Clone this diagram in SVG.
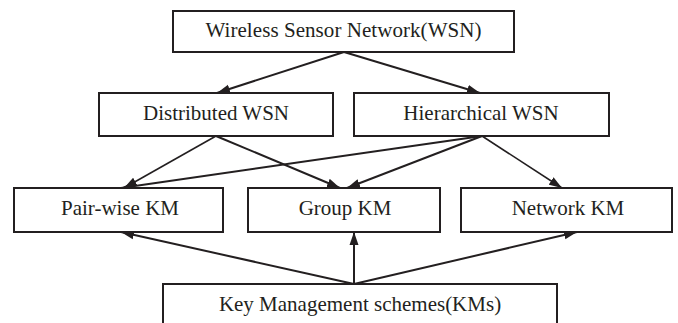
<svg xmlns="http://www.w3.org/2000/svg" width="678" height="323" viewBox="0 0 678 323">
<style>
  .box { fill: #ffffff; stroke: #231f20; stroke-width: 2; }
  .lbl { font-family: "Liberation Serif", "Times New Roman", serif; font-size: 21px; fill: #231f20; text-anchor: middle; }
  .edge { stroke: #231f20; stroke-width: 2; fill: none; marker-end: url(#ah); }
  .thin { stroke-width: 1.6; }
</style>
<defs>
  <marker id="ah" markerUnits="userSpaceOnUse" markerWidth="14" markerHeight="10" refX="13" refY="5" orient="auto">
    <path d="M0,0.5 L13,5 L0,9.5 Z" fill="#231f20"/>
  </marker>
</defs>
<rect width="678" height="323" fill="#ffffff"/>
<g id="connectors">
  <line class="edge" x1="344" y1="52" x2="217" y2="93"/>
  <line class="edge" x1="344" y1="52" x2="480" y2="93"/>
  <line class="edge thin" x1="216" y1="136" x2="124" y2="188"/>
  <line class="edge" x1="216" y1="136" x2="340" y2="188"/>
  <line class="edge" x1="482" y1="136" x2="121" y2="188"/>
  <line class="edge" x1="482" y1="136" x2="347" y2="188"/>
  <line class="edge thin" x1="482" y1="136" x2="562" y2="188"/>
  <line class="edge" x1="354" y1="284" x2="121" y2="232"/>
  <line class="edge" x1="354" y1="284" x2="354" y2="232"/>
  <line class="edge" x1="354" y1="284" x2="577" y2="232"/>
</g>
<g id="wsn">
  <rect class="box" x="173" y="11" width="341" height="41"/>
  <text class="lbl" x="343.5" y="37" textLength="276" lengthAdjust="spacing">Wireless  Sensor Network(WSN)</text>
</g>
<g id="distributed">
  <rect class="box" x="99" y="93" width="234" height="43"/>
  <text class="lbl" x="216" y="120">Distributed WSN</text>
</g>
<g id="hierarchical">
  <rect class="box" x="354" y="93" width="255" height="43"/>
  <text class="lbl" x="481" y="120">Hierarchical WSN</text>
</g>
<g id="pairwise">
  <rect class="box" x="14" y="188" width="209" height="44"/>
  <text class="lbl" x="120" y="215">Pair-wise KM</text>
</g>
<g id="group">
  <rect class="box" x="248" y="188" width="192" height="44"/>
  <text class="lbl" x="345" y="215">Group KM</text>
</g>
<g id="network">
  <rect class="box" x="461" y="188" width="211" height="44"/>
  <text class="lbl" x="568" y="215">Network KM</text>
</g>
<g id="kms">
  <rect class="box" x="163" y="284" width="394" height="60"/>
  <text class="lbl" x="360" y="311">Key Management schemes(KMs)</text>
</g>
</svg>
